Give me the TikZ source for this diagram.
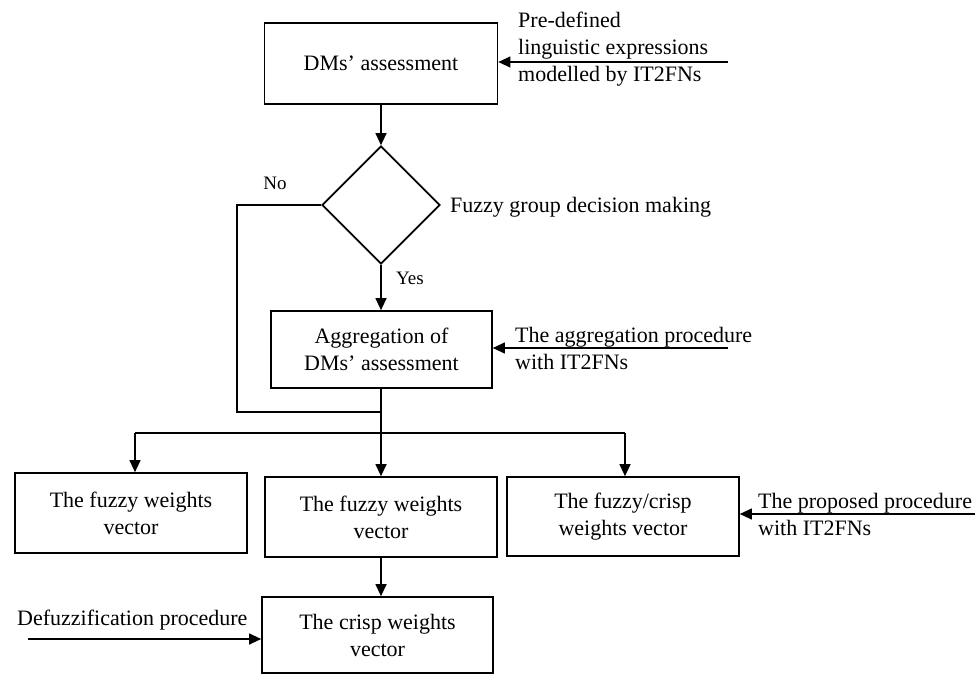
\documentclass[tikz,border=0pt]{standalone}
\usepackage{fontspec}
\setmainfont{Liberation Serif}
\usetikzlibrary{arrows.meta}
\usetikzlibrary{shapes.geometric}
\newcommand\boxfont{\fontsize{22}{27}\selectfont}
\newcommand\answerfont{\fontsize{19}{23}\selectfont}
\tikzset{
  stepbox/.style={draw,rectangle,line width=1.7pt,inner sep=0pt,align=center,font=\boxfont},
  decision/.style={draw,diamond,shape aspect=1,line width=1.7pt,inner sep=0pt,minimum width=118pt,minimum height=118pt},
  flow/.style={line width=1.2pt,-{Triangle[length=12pt,width=11pt]}},
  link/.style={line width=1.2pt},
  sidenote/.style={inner sep=0pt,align=left,font=\boxfont},
  answer/.style={inner sep=0pt,font=\answerfont}
}

\begin{document}
\begin{tikzpicture}[x=1pt,y=-1pt]
\useasboundingbox (0,0) rectangle (978,675);

\node[stepbox,minimum width=233pt,minimum height=81pt] (dms) at (381,63.5) {DMs' assessment};
\node[decision] (fgdm) at (381,205) {};
\node[stepbox,minimum width=221pt,minimum height=77pt] (agg) at (381.5,349.5) {Aggregation of\\DMs' assessment};
\node[stepbox,minimum width=232pt,minimum height=80pt] (fw1) at (131,513) {The fuzzy weights\\vector};
\node[stepbox,minimum width=232pt,minimum height=80pt] (fw2) at (381,517) {The fuzzy weights\\vector};
\node[stepbox,minimum width=232pt,minimum height=79pt] (fcw) at (623,516.5) {The fuzzy/crisp\\weights vector};
\node[stepbox,minimum width=231pt,minimum height=76pt] (crisp) at (377.5,635) {The crisp weights\\vector};

\node[sidenote,anchor=north west] (prenote) at (518,12) {Pre-defined\\linguistic expressions\\modelled by IT2FNs};
\node[sidenote,anchor=north west] (aggnote) at (515,327) {The aggregation procedure\\with IT2FNs};
\node[sidenote,anchor=north west] (propnote) at (758,493) {The proposed procedure\\with IT2FNs};
\node[sidenote,anchor=base west] (defnote) at (17,625) {Defuzzification procedure};
\node[sidenote,anchor=west] (fgdmnote) at (450,207) {Fuzzy group decision making};
\node[answer] (no) at (275,183) {No};
\node[answer] (yes) at (410,278) {Yes};

% side inputs
\coordinate (in1) at (728,62);
\coordinate (in2) at (728,348);
\coordinate (in3) at (975,514);
\coordinate (in4) at (28,639);
\draw[flow] (in1) -- (in1 -| dms.east);
\draw[flow] (in2) -- (in2 -| agg.east);
\draw[flow] (in3) -- (in3 -| fcw.east);
\draw[flow] (in4) -- (in4 -| crisp.west);

% main flow
\draw[flow] (dms.south) -- (fgdm.north);
\draw[flow] (fgdm.south) -- (fgdm.south |- agg.north);
\coordinate (noturn) at (237,412);
\coordinate (nojoin) at (381,412);
\draw[link] (fgdm.west) -| (noturn) -- (nojoin);
\coordinate (split) at (381,433);
\coordinate (b1) at (135,433);
\coordinate (b3) at (625,433);
\draw[link] (agg.south -| split) -- (split);
\draw[link] (b1) -- (b3);
\draw[flow] (b1) -- (b1 |- fw1.north);
\draw[flow] (split) -- (split |- fw2.north);
\draw[flow] (b3) -- (b3 |- fcw.north);
\draw[flow] (fw2.south -| split) -- (split |- crisp.north);
\end{tikzpicture}
\end{document}
